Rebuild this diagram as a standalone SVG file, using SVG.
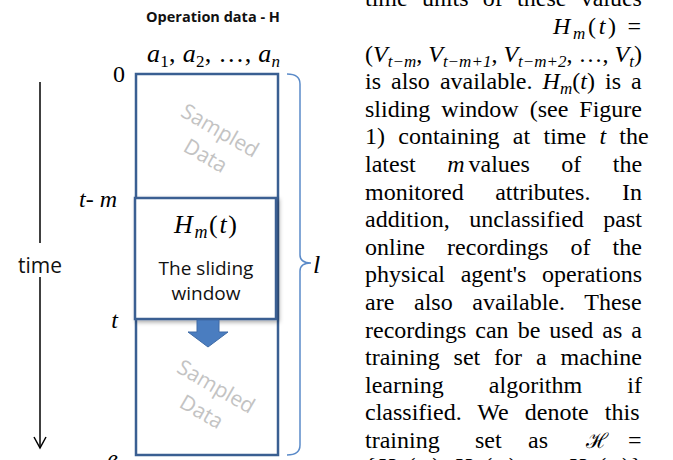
<svg xmlns="http://www.w3.org/2000/svg" width="673" height="460" viewBox="0 0 673 460">
<defs>
<filter id="shadow" x="-10%" y="-10%" width="130%" height="130%"><feDropShadow dx="2" dy="2" stdDeviation="2" flood-color="#000" flood-opacity="0.35"/></filter>
</defs>
<style>
.box{fill:#fff;stroke:#3a5f92;stroke-width:2.5}
.samp{font-family:"Open Sans","Liberation Sans",sans-serif;font-size:21px;fill:#c3c3c3;text-anchor:middle}
.sans{font-family:"Open Sans","Liberation Sans",sans-serif;fill:#111}
.body{font-family:"Liberation Serif","Times New Roman",serif;font-size:24px;fill:#000}
.it{font-style:italic}
.sub{font-size:17px}
.axis{stroke:#000;stroke-width:1.5;fill:none}
</style>
<rect width="673" height="460" fill="#fff"/>

<g id="title">
<text class="sans" x="213" y="22" text-anchor="middle" style="font-size:14.5px;font-weight:bold">Operation data - H</text>
<text class="body" x="147" y="62" style="font-size:26px" textLength="133" lengthAdjust="spacing"><tspan class="it">a</tspan><tspan class="sub" dy="5">1</tspan><tspan dy="-5">, </tspan><tspan class="it">a</tspan><tspan class="sub" dy="5">2</tspan><tspan dy="-5">, …, </tspan><tspan class="it">a</tspan><tspan class="sub it" dy="5">n</tspan></text>
</g>

<g id="time-labels">
<text class="body" x="125" y="82" text-anchor="end">0</text>
<text class="body" x="117" y="207" text-anchor="end"><tspan class="it">t</tspan>- <tspan class="it">m</tspan></text>
<text class="body it" x="118" y="328" text-anchor="end">t</text>
<text class="body it" x="118" y="466" text-anchor="end">e</text>
<text class="sans" x="40" y="273" text-anchor="middle" style="font-size:21px">time</text>
</g>

<g id="operation-data">
<rect class="box" x="136" y="74" width="142" height="381"/>
<g class="samp" transform="translate(213,143) rotate(30)">
<text x="0" y="-7">Sampled</text>
<text x="0" y="22">Data</text>
</g>
<g class="samp" transform="translate(209,399) rotate(30)">
<text x="0" y="-7">Sampled</text>
<text x="0" y="22">Data</text>
</g>
</g>

<g id="sliding-window">
<rect class="box" x="135" y="198" width="141" height="121" filter="url(#shadow)"/>
<text class="body" x="174" y="233" style="font-size:26px" textLength="63" lengthAdjust="spacing"><tspan class="it">H</tspan><tspan class="it" style="font-size:18px" dy="5">m</tspan><tspan dy="-5">(</tspan><tspan class="it">t</tspan>)</text>
<text class="sans" x="206" y="275" text-anchor="middle" style="font-size:19px">The sliding</text>
<text class="sans" x="206" y="300" text-anchor="middle" style="font-size:19px">window</text>
</g>

<g id="length-brace">
<path d="M287,74 Q300,74 300,84 L300,255 Q300,263 311,263 Q300,263 300,271 L300,445 Q300,455 287,455" fill="none" stroke="#5b8bc9" stroke-width="1.5"/>
<text class="body it" x="313" y="273" style="font-size:26px">l</text>
</g>

<g id="connectors">
<line class="axis" x1="40" y1="82" x2="40" y2="243"/>
<line class="axis" x1="40" y1="277" x2="40" y2="448"/>
<polyline class="axis" points="34,437 40,448 46,437"/>
<polygon points="197,320 219,320 219,332 228,332 208,347 188,332 197,332" fill="#4a7dc0" stroke="#3e6aa6" stroke-width="1"/>
</g>

<g id="paragraph">
<text class="body" x="365" y="6.4" style="word-spacing:8.25px">time units of these values</text>
<text class="body" x="553" y="34" textLength="88" lengthAdjust="spacing"><tspan class="it">H</tspan><tspan class="sub it" dy="5">m</tspan><tspan dy="-5">(</tspan><tspan class="it">t</tspan>) =</text>
<text class="body" x="365" y="61.6" textLength="277" lengthAdjust="spacing">(<tspan class="it">V</tspan><tspan class="sub it" dy="5">t−m</tspan><tspan dy="-5">, </tspan><tspan class="it">V</tspan><tspan class="sub it" dy="5">t−m+1</tspan><tspan dy="-5">, </tspan><tspan class="it">V</tspan><tspan class="sub it" dy="5">t−m+2</tspan><tspan dy="-5">, …, </tspan><tspan class="it">V</tspan><tspan class="sub it" dy="5">t</tspan><tspan dy="-5">)</tspan></text>
<text class="body" y="89.2"><tspan x="365">is</tspan><tspan x="391.1">also</tspan><tspan x="439.9">available.</tspan><tspan x="542.6" class="it">H</tspan><tspan class="sub it" dy="5">m</tspan><tspan dy="-5">(</tspan><tspan class="it">t</tspan>)<tspan x="605">is</tspan><tspan x="631.1">a</tspan></text>
<text class="body" x="365" y="116.8" style="word-spacing:5px">sliding window (see Figure</text>
<text class="body" x="365" y="144.4" style="word-spacing:7.28px">1) containing at time <tspan class="it">t</tspan> the</text>
<text class="body" y="172"><tspan x="365">latest</tspan><tspan x="447.2" class="it">m</tspan><tspan x="468.5">values</tspan><tspan x="561.3">of</tspan><tspan x="612.8">the</tspan></text>
<text class="body" x="365" y="199.6" style="word-spacing:25.5px">monitored attributes. In</text>
<text class="body" x="365" y="227.2" style="word-spacing:13.5px">addition, unclassified past</text>
<text class="body" x="365" y="254.8" style="word-spacing:16.1px">online recordings of the</text>
<text class="body" x="365" y="282.4" style="word-spacing:9.7px">physical agent's operations</text>
<text class="body" x="365" y="310" style="word-spacing:13.7px">are also available. These</text>
<text class="body" x="365" y="337.6" style="word-spacing:3.02px">recordings can be used as a</text>
<text class="body" x="365" y="365.2" style="word-spacing:7.9px">training set for a machine</text>
<text class="body" x="365" y="392.8" style="word-spacing:39.2px">learning algorithm if</text>
<text class="body" x="365" y="420.4" style="word-spacing:10.1px">classified. We denote this</text>
<text class="body" y="448"><tspan x="365">training</tspan><tspan x="475">set</tspan><tspan x="528">as</tspan><tspan x="586" style="font-family:'DejaVu Serif',serif;font-size:21px">ℋ</tspan><tspan x="628">=</tspan></text>
<text class="body" x="365" y="474" textLength="277" lengthAdjust="spacing">{<tspan class="it">H</tspan><tspan class="sub it" dy="5">m</tspan><tspan dy="-5">(</tspan><tspan class="it">t</tspan><tspan class="sub" dy="5">1</tspan><tspan dy="-5">), </tspan><tspan class="it">H</tspan><tspan class="sub it" dy="5">m</tspan><tspan dy="-5">(</tspan><tspan class="it">t</tspan><tspan class="sub" dy="5">2</tspan><tspan dy="-5">), …, </tspan><tspan class="it">H</tspan><tspan class="sub it" dy="5">m</tspan><tspan dy="-5">(</tspan><tspan class="it">t</tspan><tspan class="sub it" dy="5">k</tspan><tspan dy="-5">)}</tspan></text>
</g>
</svg>
